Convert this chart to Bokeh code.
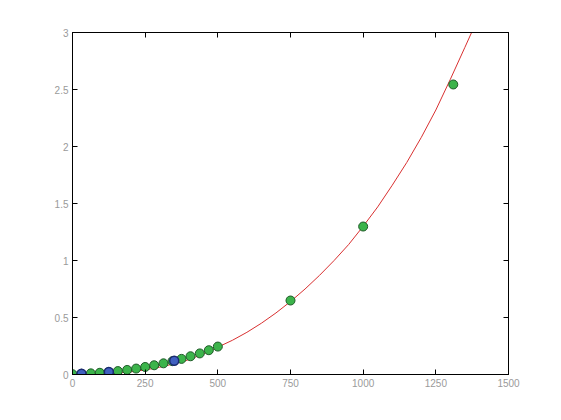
from bokeh.plotting import figure
from bokeh.models import LinearAxis, FixedTicker, Range1d
from bokeh.embed import file_html
from bokeh.resources import INLINE

# data (y in units of 10^4)
x_pts = [0, 31, 63, 94, 125, 156, 188, 219, 250, 281, 313, 344, 375, 406, 438, 469, 500, 750, 1000, 1310]
y_pts = [0.003, 0.006, 0.010, 0.015, 0.022, 0.030, 0.040, 0.052, 0.066, 0.081, 0.098, 0.117, 0.137,
         0.160, 0.185, 0.213, 0.245, 0.649, 1.298, 2.544]
x_blue = [31, 125, 350]
y_blue = [0.006, 0.022, 0.12]

x_fit = [0, 50, 100, 150, 200, 250, 300, 350, 400, 450, 500, 550, 600, 650, 700, 750, 800, 850,
         900, 950, 1000, 1050, 1100, 1150, 1200, 1250, 1300, 1350, 1373, 1400]
y_fit = [0.0, 0.001, 0.004, 0.011, 0.023, 0.04, 0.064, 0.094, 0.13, 0.18, 0.24, 0.30, 0.37, 0.45,
         0.54, 0.64, 0.75, 0.87, 1.0, 1.14, 1.30, 1.47, 1.66, 1.86, 2.08, 2.32, 2.59, 2.87, 3.0, 3.17]

x_ticks = [0, 250, 500, 750, 1000, 1250, 1500]
x_labels = ["0", "250", "500", "750", "1000", "1250", "1500"]
y_ticks = [0, 0.5, 1, 1.5, 2, 2.5, 3]
y_labels = ["0", "0.5", "1", "1.5", "2", "2.5", "3"]

p = figure(width=545, height=404, output_backend="svg", toolbar_location=None,
           x_range=Range1d(0, 1500), y_range=Range1d(0, 3),
           frame_width=436, frame_height=342,
           min_border_left=72, min_border_top=32, min_border_right=37, min_border_bottom=30,
           x_axis_location=None, y_axis_location=None)
p.grid.visible = False
p.outline_line_color = "black"
p.outline_line_width = 1
p.background_fill_color = "white"
p.border_fill_color = "white"

label_color = "#9a9a9a"

def style(ax, labels=True):
    ax.axis_line_color = "black"
    ax.major_tick_line_color = "black"
    ax.major_tick_in = 5
    ax.major_tick_out = 0
    ax.minor_tick_line_color = None
    ax.major_label_text_font = "Liberation Sans"
    ax.major_label_text_font_size = "10px"
    ax.major_label_text_color = label_color if labels else None
    ax.major_label_standoff = 4

xb = LinearAxis(ticker=FixedTicker(ticks=x_ticks),
                major_label_overrides={t: l for t, l in zip(x_ticks, x_labels)})
style(xb)
p.add_layout(xb, "below")
xt = LinearAxis(ticker=FixedTicker(ticks=x_ticks))
style(xt, labels=False)
p.add_layout(xt, "above")

yl = LinearAxis(ticker=FixedTicker(ticks=y_ticks),
                major_label_overrides={t: l for t, l in zip(y_ticks, y_labels)})
style(yl)
p.add_layout(yl, "left")
yr = LinearAxis(ticker=FixedTicker(ticks=y_ticks))
style(yr, labels=False)
p.add_layout(yr, "right")

p.line(x_fit, y_fit, line_color="#d83030", line_width=1)
p.scatter(x_pts, y_pts, size=9, fill_color="#3cb44b", line_color="#1f5a28", line_width=1)
p.scatter(x_blue, y_blue, size=9, fill_color="#4060c0", line_color="#1a2a70", line_width=1.5)

open("out.html", "w").write(file_html(p, INLINE))
